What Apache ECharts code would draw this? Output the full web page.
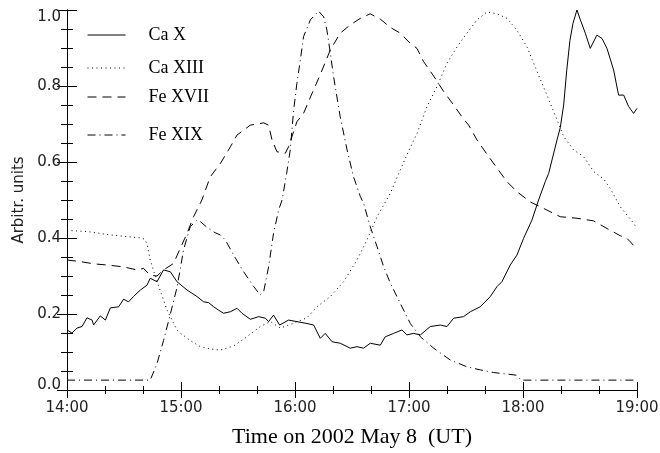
<!DOCTYPE html>
<html>
<head>
<meta charset="utf-8">
<script src="https://cdn.jsdelivr.net/npm/echarts@6/dist/echarts.min.js"></script>
<style>
html,body{margin:0;padding:0;background:#fff;}
#chart{width:660px;height:453px;}
</style>
</head>
<body>
<div id="chart"></div>
<script>
// time in minutes after 14:00 UT, value in arbitrary units
const seriesNames = ['Ca X', 'Ca XIII', 'Fe XVII', 'Fe XIX'];
const xTickLabels = ['14:00', '15:00', '16:00', '17:00', '18:00', '19:00'];

const caX = [[0,0.158],[2.6,0.15],[5.3,0.163],[7.9,0.167],[10.5,0.19],[13.2,0.184],[14,0.171],[17.5,0.195],[20.2,0.184],[22.8,0.216],[27.2,0.219],[29.8,0.239],[32.4,0.232],[35,0.246],[38.6,0.263],[42.1,0.276],[43.8,0.294],[47.4,0.285],[50.8,0.316],[54.4,0.311],[57.9,0.285],[63.2,0.263],[68.4,0.246],[71.9,0.232],[74.5,0.23],[77.2,0.219],[79.8,0.21],[82.4,0.202],[86,0.206],[89.5,0.215],[92.1,0.202],[96.5,0.186],[100.8,0.193],[104.4,0.189],[106.1,0.18],[108.7,0.197],[111.9,0.171],[116.6,0.184],[121,0.18],[126.3,0.175],[129.8,0.171],[133.3,0.136],[135.9,0.149],[139.5,0.127],[143.8,0.123],[149.1,0.11],[152.6,0.114],[156.1,0.11],[159.6,0.123],[164.9,0.118],[167.5,0.14],[171.9,0.149],[176.3,0.158],[178.9,0.145],[182.4,0.149],[186,0.145],[191.2,0.167],[196.5,0.171],[200,0.167],[203.5,0.189],[208.7,0.193],[212.3,0.206],[217.5,0.219],[222.8,0.246],[226.3,0.272],[228.9,0.285],[233.3,0.329],[236.8,0.355],[240.3,0.399],[244.7,0.447],[248.2,0.5],[251.7,0.548],[253.5,0.57],[257.9,0.658],[259.6,0.69],[261.4,0.75],[263,0.84],[264.7,0.92],[266.3,0.965],[268.4,1.0],[270.2,0.974],[272.8,0.939],[275.4,0.899],[278.9,0.934],[281.6,0.925],[284.2,0.899],[287.7,0.842],[290.3,0.776],[293,0.776],[295.6,0.746],[298.2,0.728],[300,0.741]];

const caXIII = [[0,0.42],[10.5,0.417],[22.8,0.408],[35,0.402],[39.5,0.4],[41.2,0.395],[42.3,0.38],[43.8,0.342],[47.4,0.285],[50.8,0.237],[52.6,0.211],[54.4,0.193],[57.9,0.158],[59.6,0.15],[64.9,0.13],[70.2,0.114],[75.4,0.108],[80.7,0.105],[87.7,0.116],[94.7,0.14],[101.7,0.167],[107,0.18],[112.3,0.163],[119.3,0.176],[126.3,0.19],[131.6,0.219],[138.6,0.246],[145.6,0.285],[152.6,0.342],[157.9,0.395],[163.2,0.456],[170.2,0.518],[175.4,0.579],[179,0.62],[184.2,0.675],[189.5,0.746],[194.7,0.798],[200,0.86],[205.3,0.903],[210.5,0.939],[215.8,0.974],[221.1,0.995],[226.3,0.99],[231.6,0.978],[236.8,0.947],[242.1,0.903],[247.4,0.838],[252.6,0.776],[257.9,0.711],[261.4,0.667],[266.6,0.632],[271.9,0.614],[277.2,0.575],[282.5,0.555],[286,0.53],[291.2,0.482],[298.2,0.439],[300,0.425]];

const feXVII = [[0,0.342],[7,0.338],[14,0.332],[21,0.329],[29.8,0.324],[36.8,0.316],[40.3,0.32],[43.8,0.302],[47.4,0.3],[50.8,0.316],[56.1,0.333],[59.6,0.373],[63.2,0.412],[66.6,0.456],[71,0.5],[75.4,0.561],[80.7,0.596],[86,0.64],[89.5,0.671],[96.5,0.697],[103.5,0.703],[106.1,0.697],[107.9,0.658],[110.5,0.627],[114.9,0.623],[116.6,0.64],[121,0.706],[124.5,0.728],[128.9,0.78],[133.3,0.83],[138.6,0.895],[143.8,0.939],[149.1,0.961],[154.4,0.978],[159.6,0.99],[164.9,0.976],[170.2,0.954],[175.4,0.939],[180.7,0.912],[184.2,0.899],[187.7,0.864],[193,0.826],[198.3,0.785],[203.5,0.75],[208.7,0.713],[211.4,0.697],[215.8,0.658],[221.1,0.62],[226.3,0.584],[231.6,0.548],[236.8,0.522],[243.8,0.495],[250.8,0.478],[259.6,0.456],[268.4,0.452],[277.2,0.445],[284.2,0.425],[291.2,0.406],[294.7,0.399],[296.5,0.39],[300,0.37]];

const feXIX = [[0,0.026],[43.8,0.026],[47.4,0.07],[50.8,0.13],[54.4,0.2],[57.9,0.27],[61.4,0.37],[64.9,0.43],[68.4,0.447],[70.2,0.443],[73.7,0.428],[77.5,0.415],[80.7,0.408],[83.3,0.395],[87.7,0.355],[93,0.311],[98.3,0.272],[101.7,0.25],[103.5,0.259],[106.1,0.324],[108.7,0.412],[111.4,0.474],[113.2,0.5],[115.6,0.57],[117.5,0.632],[119.3,0.737],[121,0.807],[122.8,0.868],[124.5,0.93],[128.1,0.974],[132.4,0.997],[135.1,0.982],[136.8,0.947],[138.6,0.886],[140.3,0.825],[143.8,0.719],[147.4,0.632],[150.8,0.561],[154.4,0.509],[156.1,0.491],[159.6,0.43],[163.2,0.377],[166.7,0.324],[170.2,0.281],[175.4,0.228],[180.7,0.175],[186,0.14],[193,0.11],[201.7,0.079],[210.5,0.061],[217.5,0.053],[224.5,0.046],[231.6,0.042],[236.5,0.039],[239.1,0.026],[300,0.026]];

const seriesData = [caX, caXIII, feXVII, feXIX];
const dashTypes = ['solid', [1, 3.5], [9, 6], [8, 4, 1, 4]];
const legendRowsY = [33, 66, 95, 133];

const chart = echarts.init(document.getElementById('chart'), null, {renderer: 'canvas'});

const axisCommon = {
  axisLine: {show: true, lineStyle: {color: '#000', width: 1}},
  splitLine: {show: false}
};
const sansFont = 'DejaVu Sans';

const legends = seriesNames.map((n, i) => ({
  data: [n],
  left: 87,
  top: legendRowsY[i] - 7,
  orient: 'vertical',
  itemWidth: 38,
  itemHeight: 14,
  padding: 0,
  selectedMode: false,
  itemStyle: {opacity: 0},
  lineStyle: {width: 1},
  textStyle: {fontFamily: 'Liberation Serif', fontSize: 18, color: '#000', padding: [0, 0, 0, 18]}
}));

const option = {
  animation: false,
  backgroundColor: '#fff',
  grid: {left: 67, right: 23, top: 10, bottom: 63, containLabel: false, outerBoundsMode: 'none'},
  legend: legends,
  xAxis: [
    Object.assign({}, axisCommon, {
      type: 'value', position: 'bottom', min: 0, max: 300, interval: 60,
      name: 'Time on 2002 May 8  (UT)', nameLocation: 'middle', nameGap: 36,
      nameTextStyle: {fontFamily: 'Liberation Serif', fontSize: 22, color: '#000'},
      axisTick: {show: true, inside: true, length: 8, lineStyle: {color: '#000'}},
      minorTick: {show: true, splitNumber: 3, length: 4, lineStyle: {color: '#000'}},
      axisLabel: {fontFamily: sansFont, fontSize: 15, color: '#222', margin: 11,
        formatter: v => xTickLabels[Math.round(v / 60)]}
    }),
    Object.assign({}, axisCommon, {
      type: 'value', position: 'top', min: 0, max: 300, interval: 60,
      axisTick: {show: true, inside: true, length: 8, lineStyle: {color: '#000'}},
      minorTick: {show: true, splitNumber: 3, length: 4, lineStyle: {color: '#000'}},
      axisLabel: {show: false}
    })
  ],
  yAxis: [
    Object.assign({}, axisCommon, {
      type: 'value', position: 'left', min: 0, max: 1, interval: 0.2,
      name: 'Arbitr. units', nameLocation: 'middle', nameGap: 39,
      nameTextStyle: {fontFamily: sansFont, fontSize: 15, color: '#222'},
      axisTick: {show: true, inside: true, length: 10, lineStyle: {color: '#000'}},
      minorTick: {show: true, splitNumber: 4, length: 6, lineStyle: {color: '#000'}},
      axisLabel: {fontFamily: sansFont, fontSize: 15, color: '#222', margin: 6,
        formatter: v => v === 0 ? '{lo|0.0}' : (v >= 1 ? '{hi|1.0}' : v.toFixed(1)),
        rich: {
          lo: {fontFamily: sansFont, fontSize: 15, color: '#222', padding: [0, 0, 10, 0]},
          hi: {fontFamily: sansFont, fontSize: 15, color: '#222', padding: [14, 0, 0, 0]}
        }}
    }),
    Object.assign({}, axisCommon, {
      type: 'value', position: 'right', min: 0, max: 1, interval: 0.2,
      axisTick: {show: true, inside: true, length: 10, lineStyle: {color: '#000'}},
      minorTick: {show: true, splitNumber: 4, length: 6, lineStyle: {color: '#000'}},
      axisLabel: {show: false}
    })
  ],
  series: seriesNames.map((n, i) => ({
    name: n,
    type: 'line',
    xAxisIndex: 0,
    yAxisIndex: 0,
    data: seriesData[i],
    symbol: 'none',
    showSymbol: false,
    smooth: false,
    color: '#000',
    lineStyle: {color: '#000', width: 1, type: dashTypes[i]},
    emphasis: {disabled: true}
  }))
};

chart.setOption(option);
</script>
</body>
</html>
